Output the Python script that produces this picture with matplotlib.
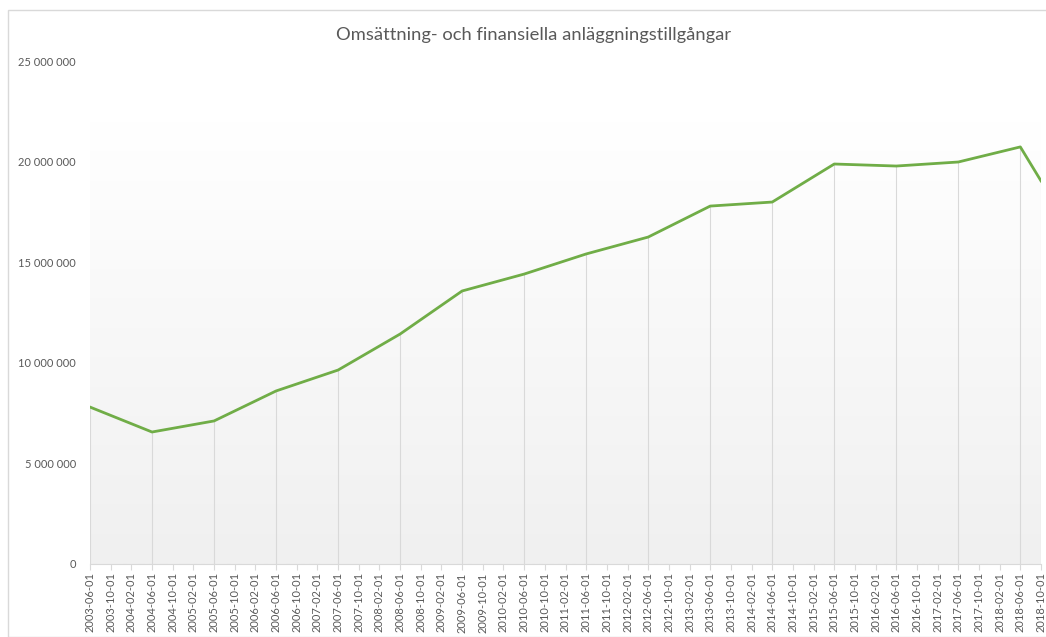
import matplotlib.pyplot as plt
import numpy as np
import pandas as pd
from matplotlib.colors import LinearSegmentedColormap
from matplotlib.patches import Rectangle

plt.rcParams['font.family'] = ['Lato', 'DejaVu Sans']

# Category axis (every 4 months) and data points
categories = pd.date_range('2003-06-01', '2018-10-01', freq='4MS').strftime('%Y-%m-%d').tolist()
point_dates = ['2003-06-01', '2004-06-01', '2005-06-01', '2006-06-01', '2007-06-01',
               '2008-06-01', '2009-06-01', '2010-06-01', '2011-06-01', '2012-06-01',
               '2013-06-01', '2014-06-01', '2015-06-01', '2016-06-01', '2017-06-01',
               '2018-06-01', '2018-10-01']
values = [7.80e6, 6.56e6, 7.11e6, 8.60e6, 9.64e6,
          11.43e6, 13.57e6, 14.41e6, 15.41e6, 16.25e6,
          17.79e6, 17.99e6, 19.88e6, 19.78e6, 19.98e6,
          20.73e6, 19.04e6]
yticks = [0, 5e6, 10e6, 15e6, 20e6, 25e6]

text_col = '#595959'
grid_col = '#d9d9d9'

fig = plt.figure(figsize=(10.46, 6.37), dpi=100)
# chart border
fig.patches.append(Rectangle((8 / 1046, 0), 1.2, (637 - 10) / 637, transform=fig.transFigure,
                             fill=False, edgecolor=grid_col, lw=1))
ax = fig.add_axes([90 / 1046, 1 - 564 / 637, 951 / 1046, 503 / 637])

xs = [categories.index(d) for d in point_dates]
n = len(categories)

# gradient background (white at top, light grey at bottom)
cmap = LinearSegmentedColormap.from_list('bg', ['#ffffff', '#f0f0f0'])
grad = np.linspace(0, 1, 256).reshape(-1, 1)
ax.imshow(grad, cmap=cmap, aspect='auto', extent=[0, n - 1, 0, 22e6], origin='upper', zorder=0)

# drop lines
ax.vlines(xs, 0, values, color=grid_col, lw=0.8, zorder=1)
ax.plot(xs, values, color='#70ad47', lw=2, zorder=3, solid_joinstyle='round')

ax.set_xlim(0, n - 1)
ax.set_ylim(0, 25e6)
ax.set_yticks(yticks)
ax.set_yticklabels([f'{int(v):,}'.replace(',', ' ') for v in yticks])
ax.set_xticks(range(n))
ax.set_xticklabels(categories, rotation=90)
ax.tick_params(axis='y', length=0, pad=10, labelsize=8, labelcolor=text_col)
ax.tick_params(axis='x', length=4, color=grid_col, labelsize=8, labelcolor=text_col, pad=2)

for s in ['top', 'right', 'left']:
    ax.spines[s].set_visible(False)
ax.spines['bottom'].set_color(grid_col)
ax.set_facecolor('none')

fig.text(533 / 1046, 1 - 35 / 637, 'Omsättning- och finansiella anläggningstillgångar',
         ha='center', va='center', fontsize=13.2, color=text_col)

fig.savefig('out.png', dpi=100)
